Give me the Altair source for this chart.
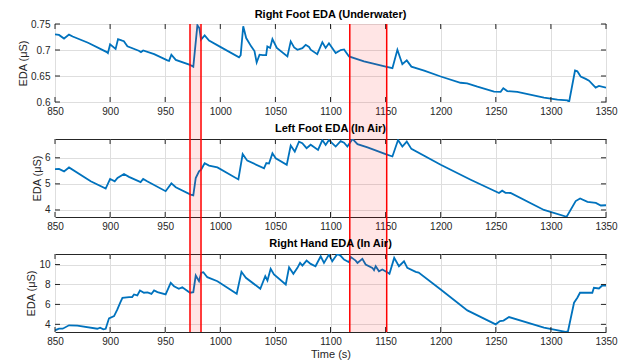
import altair as alt
import pandas as pd

# ---- data ----
x_ticks = [850, 900, 950, 1000, 1050, 1100, 1150, 1200, 1250, 1300, 1350]

rf_ticks = [0.6, 0.65, 0.7, 0.75]
lf_ticks = [4, 5, 6]
rh_ticks = [4, 6, 8, 10]

shade_start = [972.5, 1117.5]
shade_end = [982.5, 1151.0]

right_foot = [
    (850, 0.730), (853.6, 0.729), (858.2, 0.722), (862.7, 0.7295), (866, 0.726),
    (880, 0.714), (897, 0.696), (898, 0.694), (900, 0.711), (905, 0.702),
    (907.2, 0.721), (911, 0.718), (912.5, 0.717), (915.7, 0.707), (926, 0.6985),
    (928, 0.696), (930, 0.699), (940, 0.692), (952, 0.680), (953.5, 0.679),
    (955.6, 0.691), (959.6, 0.681), (972.5, 0.6715), (975.5, 0.6676), (979.2, 0.7475),
    (981, 0.742), (982.5, 0.720), (985.8, 0.728), (989.8, 0.718), (1000, 0.706),
    (1017, 0.686), (1018.5, 0.690), (1020.8, 0.7456), (1023.5, 0.723), (1028, 0.707),
    (1031, 0.698), (1033, 0.676), (1035.6, 0.691), (1038.6, 0.690), (1041.6, 0.690),
    (1042.7, 0.707), (1045.2, 0.704), (1047.3, 0.721), (1051.3, 0.704), (1060.9, 0.6876),
    (1063.9, 0.7166), (1067, 0.705), (1070, 0.7005), (1074.5, 0.7036), (1077.5, 0.710),
    (1080.5, 0.706), (1082, 0.7005), (1088, 0.692), (1092.6, 0.715), (1095.6, 0.704),
    (1098.6, 0.713), (1104.7, 0.694), (1109.3, 0.700), (1112.3, 0.701), (1116.8, 0.6876),
    (1121.4, 0.6843), (1130.4, 0.678), (1150.1, 0.668), (1156.2, 0.665), (1160.7, 0.7005),
    (1165.2, 0.6727), (1169.2, 0.680), (1173.4, 0.668), (1185, 0.6605), (1200, 0.649),
    (1218, 0.637), (1224, 0.636), (1233.3, 0.6296), (1248.4, 0.620), (1254.4, 0.6195),
    (1256.8, 0.6263), (1260.4, 0.621), (1269.5, 0.6195), (1293.7, 0.6083), (1305.9, 0.6045),
    (1315, 0.6031), (1316.5, 0.600), (1321.9, 0.6605), (1324, 0.659), (1327, 0.649),
    (1331.6, 0.6445), (1334.6, 0.641), (1340.6, 0.6277), (1343.6, 0.631), (1350, 0.6277),
]

left_foot = [
    (850, 5.567), (853.6, 5.57), (858.2, 5.48), (862.7, 5.63), (882.4, 5.10),
    (896, 4.82), (900, 5.19), (904.2, 5.10), (906.7, 5.23), (912.6, 5.38),
    (917.1, 5.27), (927.7, 5.07), (930, 5.19), (933.6, 5.10), (950.4, 4.72),
    (955.6, 5.02), (959.6, 4.87), (973.1, 4.59), (975.5, 4.56), (977.7, 5.22),
    (980.7, 5.48), (982.5, 5.54), (985.8, 5.79), (989.8, 5.70), (997.4, 5.63),
    (1016.4, 5.17), (1020.3, 6.14), (1024.5, 5.89), (1039.7, 5.60), (1041.8, 5.80),
    (1044.2, 5.78), (1047.3, 6.17), (1050.3, 5.98), (1060.3, 5.73), (1063.9, 6.47),
    (1067.6, 6.24), (1071.4, 6.62), (1074.4, 6.56), (1078.3, 6.37), (1082, 6.50),
    (1088.7, 6.30), (1092.6, 6.68), (1095.6, 6.49), (1098.6, 6.68), (1104.7, 6.43),
    (1109.2, 6.64), (1112.3, 6.58), (1115.3, 6.43), (1120, 6.72), (1124.5, 6.52),
    (1133.6, 6.40), (1150, 6.14), (1156.2, 6.05), (1161.3, 6.68), (1165.2, 6.43),
    (1169.2, 6.62), (1173.4, 6.34), (1200, 5.73), (1227.2, 5.16), (1252.9, 4.65),
    (1255.8, 4.74), (1258.8, 4.66), (1263.4, 4.65), (1293.7, 4.00), (1314.3, 3.74),
    (1322.5, 4.34), (1326.5, 4.44), (1333.2, 4.31), (1340.8, 4.27), (1345.3, 4.17),
    (1350, 4.18),
]

right_hand = [
    (850, 3.40), (853.6, 3.56), (857, 3.56), (862.7, 3.90), (870.3, 3.87),
    (888.4, 3.56), (890.9, 3.67), (893.9, 3.50), (896, 3.55), (899, 4.60),
    (903.6, 4.83), (906.6, 5.50), (909.1, 6.16), (911.2, 6.66), (917.2, 6.73),
    (920, 6.73), (921.7, 7.00), (924.7, 6.90), (927.1, 7.40), (930.7, 7.17),
    (934, 7.20), (937.5, 7.05), (939.9, 7.40), (943, 7.23), (950.4, 7.00),
    (955, 8.16), (958, 7.83), (962.4, 7.57), (965.5, 7.73), (972.5, 7.17),
    (975.5, 7.23), (977.7, 8.90), (980.7, 8.33), (982.7, 9.17), (984.6, 9.23),
    (988.2, 8.73), (997.4, 8.33), (1014.9, 7.07), (1019.2, 9.27), (1023.2, 8.67),
    (1036.3, 7.57), (1040.8, 8.83), (1042.8, 8.40), (1045.7, 9.57), (1048.7, 9.00),
    (1059.4, 8.00), (1062.4, 9.73), (1066.3, 9.07), (1070, 9.67), (1072.4, 10.17),
    (1074.5, 9.90), (1078.3, 10.40), (1082, 10.07), (1086.4, 9.83), (1091.1, 10.83),
    (1094.1, 10.17), (1098.6, 11.00), (1101.6, 10.33), (1106.2, 11.06), (1109, 10.90),
    (1112.3, 10.50), (1116.8, 10.23), (1118.3, 10.77), (1122.8, 10.40), (1124.5, 10.17),
    (1128.9, 10.57), (1131.9, 10.00), (1138, 9.67), (1139.5, 9.43), (1141, 9.83),
    (1144, 9.33), (1147, 9.50), (1152.2, 9.17), (1153.5, 9.07), (1157.8, 10.67),
    (1162.1, 9.83), (1166.7, 10.33), (1169.7, 9.67), (1177.3, 9.27), (1180, 9.20),
    (1200, 7.50), (1224.2, 5.40), (1249.9, 4.00), (1253.8, 4.33), (1257, 4.38),
    (1262, 4.73), (1293.7, 3.67), (1313.4, 3.24), (1315.5, 3.30), (1321, 6.17),
    (1324, 6.67), (1326.4, 7.17), (1337.6, 7.17), (1339, 7.67), (1343.6, 7.60),
    (1346.6, 7.90), (1350, 7.90),
]

# ---- layout / style ----
W, H = 551, 78
GAP = 37
TL = 5
INK = "#262626"
FONT = "Liberation Sans"


def make_panel(pairs, title, ydomain, yticks, xtitle, extend_down, title_offset):
    df = pd.DataFrame(pairs, columns=["t", "eda"])
    xs = alt.Scale(domain=[850, 1350], nice=False, zero=False)
    ys = alt.Scale(domain=ydomain, nice=False, zero=False)
    xaxis = alt.Axis(values=x_ticks, format="d", title=xtitle, grid=True, labelFlush=False,
                     ticks=False, domain=False, labelPadding=4, titlePadding=2)
    yaxis = alt.Axis(values=yticks, format="~r", title="EDA (μS)", grid=True, labelFlush=False,
                     ticks=False, domain=False, labelPadding=5, titlePadding=2)

    def X(f):
        return alt.X(f, type="quantitative", scale=xs, axis=xaxis)

    def Y(f):
        return alt.Y(f, type="quantitative", scale=ys, axis=yaxis)

    line = alt.Chart(df).mark_line(color="#0072BD", strokeWidth=1.8, clip=True).encode(
        x=X("t"), y=Y("eda"))

    xt = pd.DataFrame({"xt": x_ticks})
    yt = pd.DataFrame({"yt": yticks})
    tick_top = alt.Chart(xt).mark_rule(color=INK, strokeWidth=1).encode(
        x=X("xt"), y=alt.value(0), y2=alt.value(TL))
    tick_bot = alt.Chart(xt).mark_rule(color=INK, strokeWidth=1).encode(
        x=X("xt"), y=alt.value(H - TL), y2=alt.value(H))
    tick_l = alt.Chart(yt).mark_rule(color=INK, strokeWidth=1).encode(
        y=Y("yt"), x=alt.value(0), x2=alt.value(TL))
    tick_r = alt.Chart(yt).mark_rule(color=INK, strokeWidth=1).encode(
        y=Y("yt"), x=alt.value(W - TL), x2=alt.value(W))

    sh = pd.DataFrame({"s": shade_start, "e": shade_end})
    rect = alt.Chart(sh).mark_rect(color="#FF0000", opacity=0.1).encode(
        x=X("s"), x2="e", y=alt.value(0), y2=alt.value(H + extend_down))
    edges = pd.DataFrame({"edge": shade_start + shade_end})
    rules = alt.Chart(edges).mark_rule(color="#FF0000", strokeWidth=1.5).encode(
        x=X("edge"), y=alt.value(0), y2=alt.value(H + extend_down))

    return alt.layer(line, tick_top, tick_bot, tick_l, tick_r, rect, rules).properties(
        width=W, height=H,
        title=alt.TitleParams(title, fontSize=11, fontWeight="bold", font=FONT,
                              color="#000000", offset=title_offset, frame="group",
                              anchor="middle"))


p1 = make_panel(right_foot, "Right Foot EDA (Underwater)", [0.6, 0.75], rf_ticks, None, GAP, -1)
p2 = make_panel(left_foot, "Left Foot EDA (In Air)", [3.73, 6.72], lf_ticks, None, GAP, 4)
p3 = make_panel(right_hand, "Right Hand EDA (In Air)", [3.23, 11.06], rh_ticks, "Time (s)", 0, 4)

chart = alt.vconcat(p1, p2, p3, spacing=GAP, bounds="flush").properties(
    padding={"left": 9, "top": 0, "right": 5, "bottom": 0}
).configure_view(
    stroke=INK, strokeWidth=1
).configure_axis(
    labelFont=FONT, labelFontSize=10, labelColor=INK,
    titleFont=FONT, titleFontSize=11, titleColor=INK, titleFontWeight="normal",
    gridColor="#DEDEDE", gridWidth=1
)

chart.save("out.html", embed_options={"renderer": "svg", "actions": False})
